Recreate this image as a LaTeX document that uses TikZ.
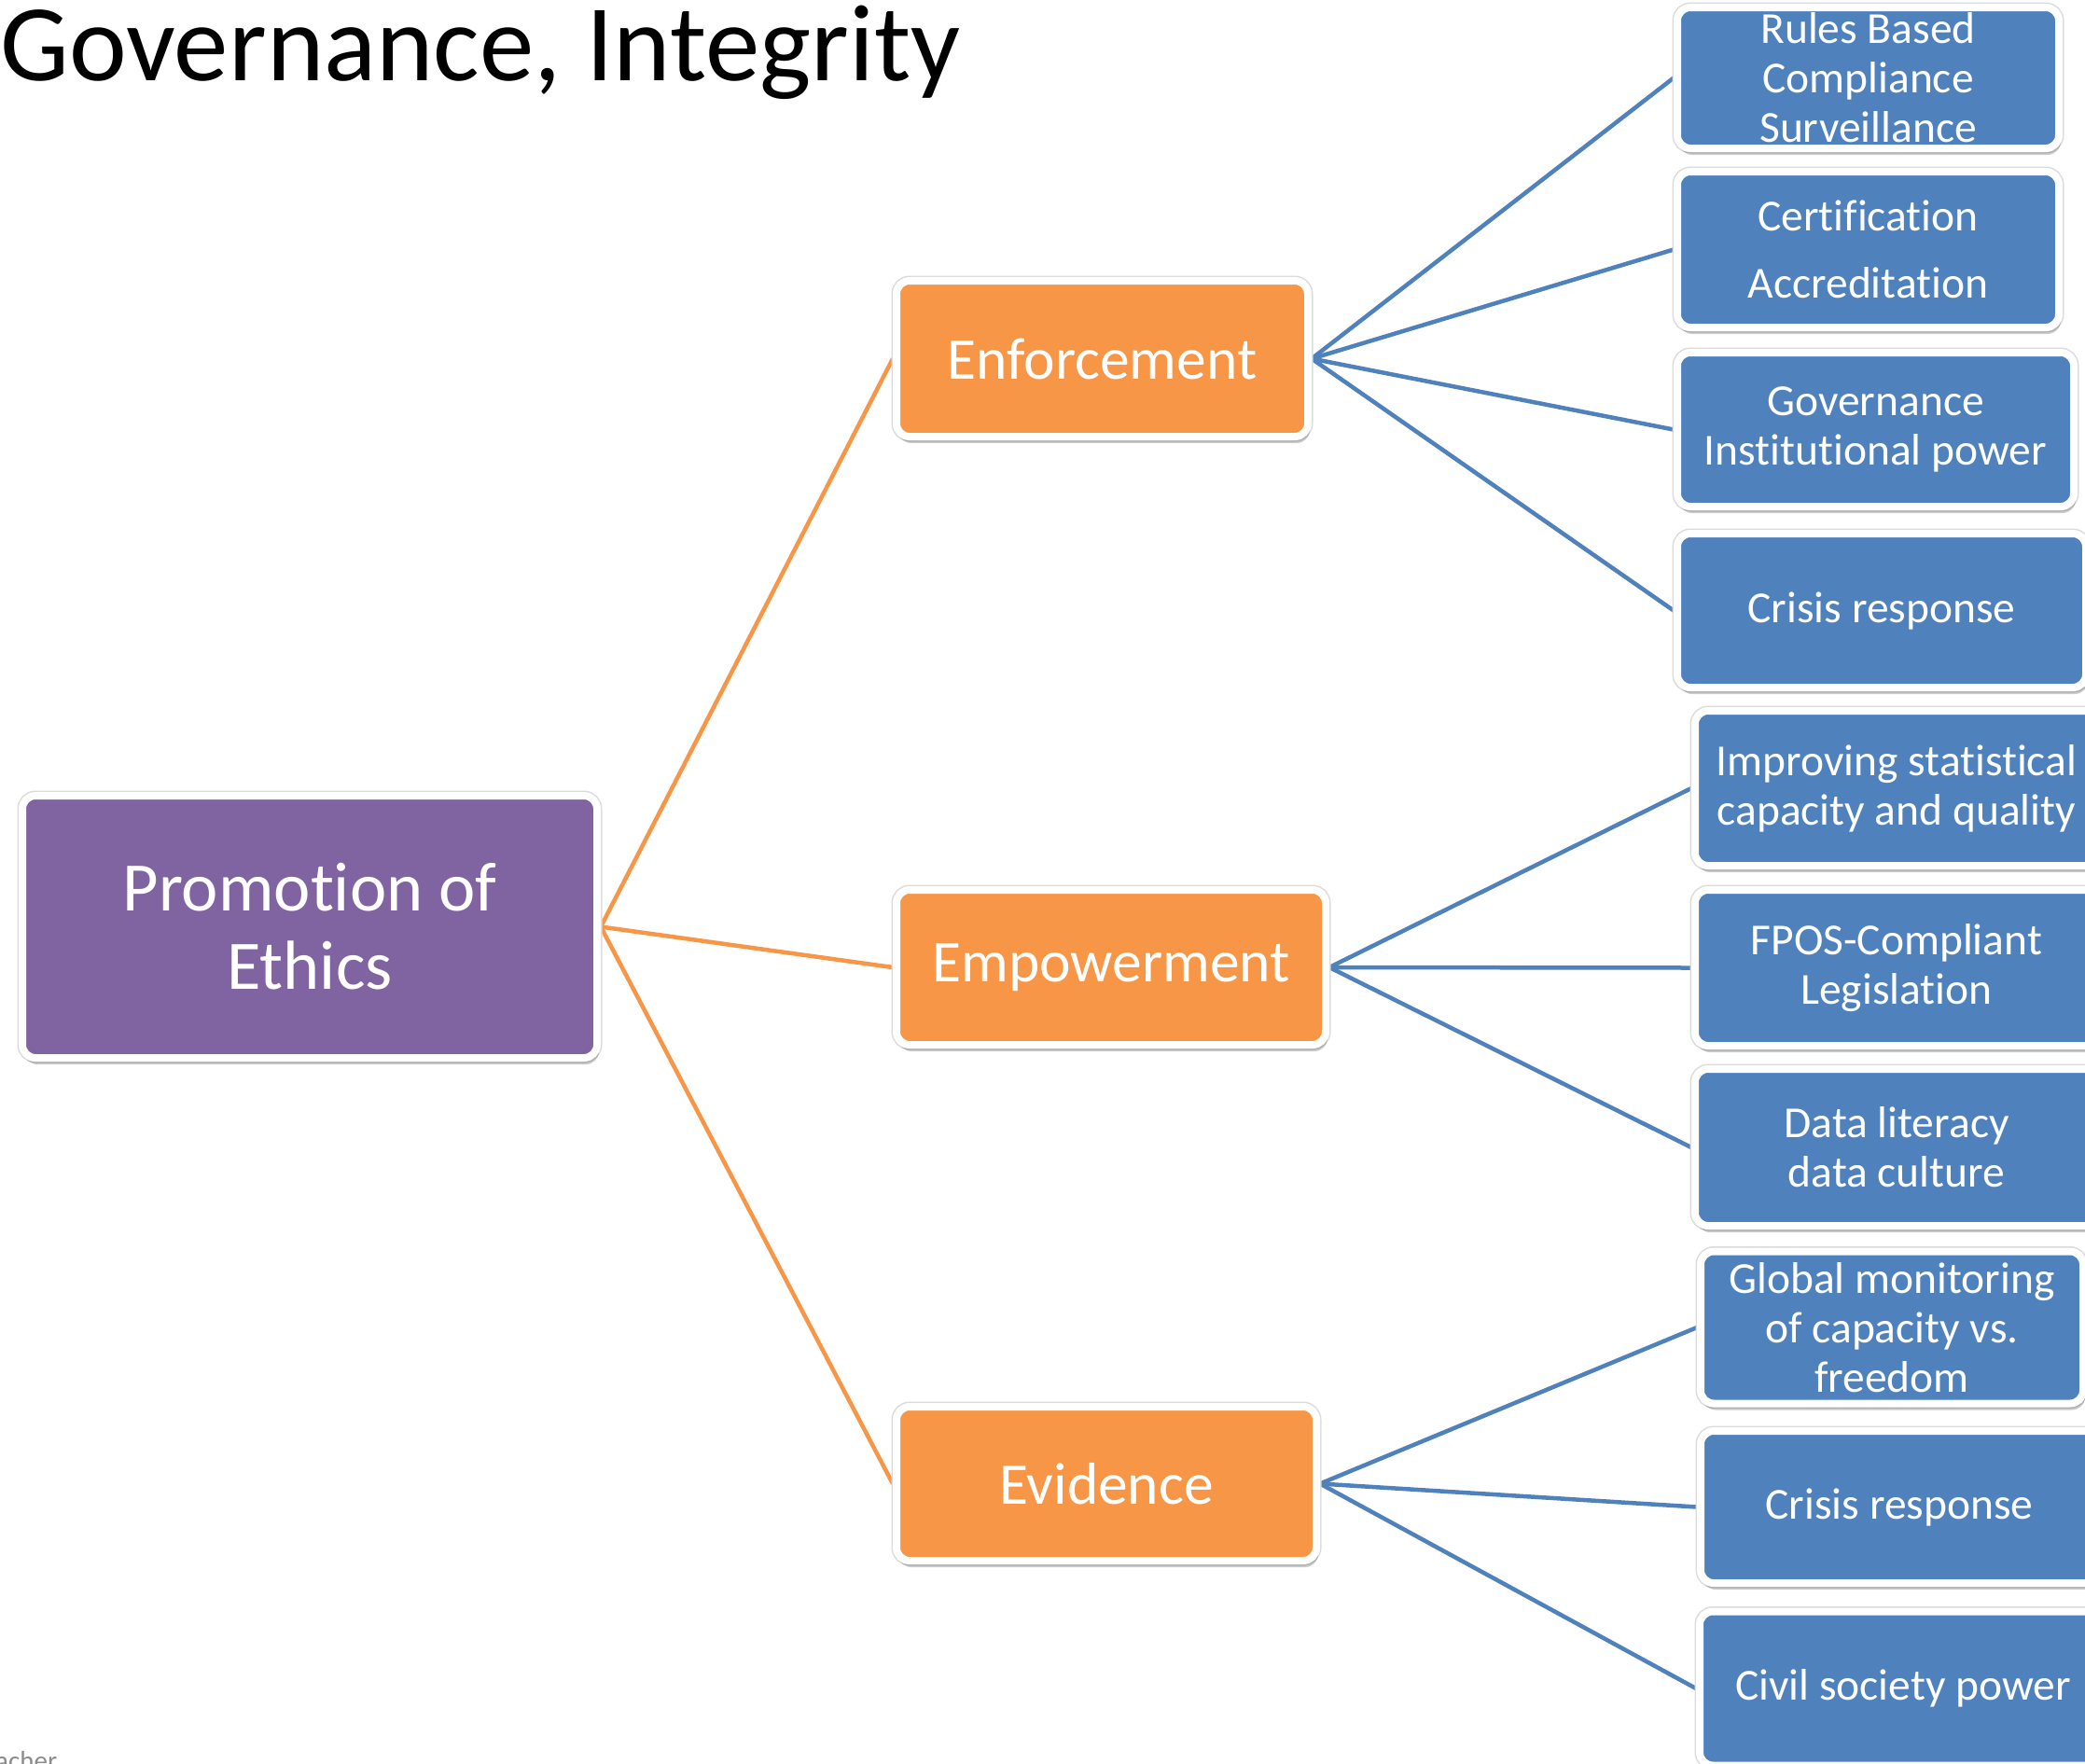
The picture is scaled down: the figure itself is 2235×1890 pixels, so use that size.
\documentclass[tikz,border=0pt]{standalone}
\usepackage{fontspec}
\setmainfont{Carlito}[Ligatures=NoCommon]
\usetikzlibrary{shadows,backgrounds}

\definecolor{ethicpurple}{RGB}{128,100,162}
\definecolor{pillarorange}{RGB}{247,150,70}
\definecolor{itemblue}{RGB}{79,129,189}
\definecolor{footgray}{RGB}{140,140,140}

\tikzset{
  box/.style={rectangle, rounded corners=14pt, draw=white, line width=8pt,
    inner sep=0pt, align=center, text=white,
    preaction={draw=black!14, line width=11pt},
    drop shadow={shadow xshift=2pt, shadow yshift=-7pt, opacity=0.2, fill=black}},
  purplebox/.style={box, fill=ethicpurple, font=\fontsize{74.5}{84}\selectfont},
  orangebox/.style={box, fill=pillarorange, font=\fontsize{63.5}{74}\selectfont},
  bluebox/.style={box, fill=itemblue, font=\fontsize{47.5}{53}\selectfont},
  orangelink/.style={draw=pillarorange, line width=4.5pt},
  bluelink/.style={draw=itemblue, line width=4.5pt},
}

\begin{document}
\begin{tikzpicture}[x=1pt, y=-1pt]
\useasboundingbox (0,0) rectangle (2235,1890);

% heading
\node[anchor=base west, inner sep=0pt, font=\fontsize{117}{140}\selectfont] (title) at (0,86) {Governance, Integrity};

% footer remnant at the lower edge
\node[anchor=base west, inner sep=0pt, text=footgray, font=\fontsize{29}{34}\selectfont] (foot) at (-5,1897) {acher};

% root
\node[purplebox, minimum width=616pt, minimum height=281pt] (root) at (332,993.5) {Promotion of\\Ethics};

% pillars
\node[orangebox, minimum width=441pt, minimum height=167pt] (enf) at (1181.5,384.5) {Enforcement};
\node[orangebox, minimum width=460pt, minimum height=166pt] (emp) at (1191,1037) {Empowerment};
\node[orangebox, minimum width=450pt, minimum height=165pt] (evi) at (1186,1590.5) {Evidence};

% enforcement items
\node[bluebox, minimum width=409pt, minimum height=151pt] (b1) at (2002.5,83.5) {Rules Based\\Compliance\\Surveillance};
\node[bluebox, minimum width=409pt, minimum height=167pt] (b2) at (2002.5,267.5) {Certification\\[19pt]Accreditation};
\node[bluebox, minimum width=425pt, minimum height=165pt] (b3) at (2010.5,460.5) {Governance\\Institutional power};
\node[bluebox, minimum width=438pt, minimum height=165pt] (b4) at (2017,654.5) {Crisis response};

% empowerment items
\node[bluebox, minimum width=432pt, minimum height=166pt] (b5) at (2033,845) {Improving statistical\\capacity and quality};
\node[bluebox, minimum width=432pt, minimum height=167pt] (b6) at (2033,1037.5) {FPOS-Compliant\\Legislation};
\node[bluebox, minimum width=432pt, minimum height=168pt] (b7) at (2033,1230) {Data literacy\\data culture};

% evidence items
\node[bluebox, minimum width=410pt, minimum height=163pt] (b8) at (2028,1423) {Global monitoring\\of capacity vs.\\freedom};
\node[bluebox, minimum width=426pt, minimum height=163pt] (b9) at (2036,1615.5) {Crisis response};
\node[bluebox, minimum width=436pt, minimum height=165pt] (b10) at (2040,1810) {Civil society power};

% connectors
\begin{scope}[on background layer]
  \draw[orangelink] (root.east) -- (enf.west);
  \draw[orangelink] (root.east) -- (emp.west);
  \draw[orangelink] (root.east) -- (evi.west);
  \foreach \t in {b1,b2,b3,b4} \draw[bluelink] (enf.east) -- (\t.west);
  \foreach \t in {b5,b6,b7} \draw[bluelink] (emp.east) -- (\t.west);
  \foreach \t in {b8,b9,b10} \draw[bluelink] (evi.east) -- (\t.west);
\end{scope}
\end{tikzpicture}
\end{document}
